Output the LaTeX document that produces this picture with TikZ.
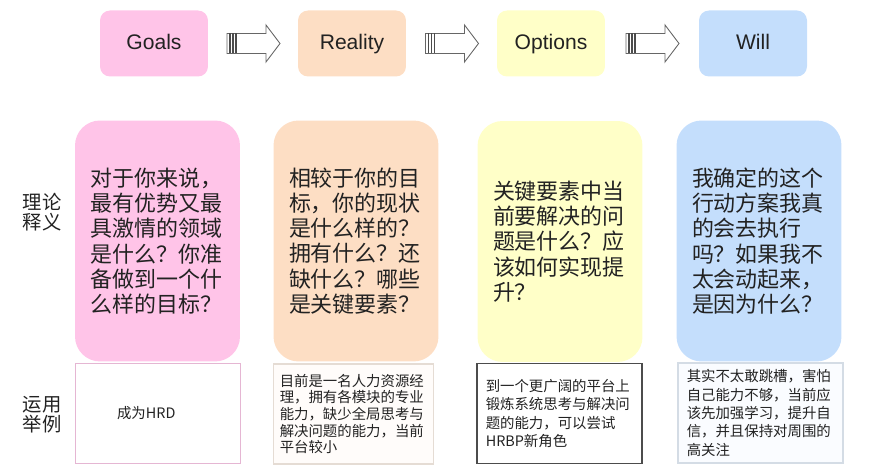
\documentclass[tikz,border=0pt]{standalone}
\usepackage{fontspec}
\setmainfont{Liberation Sans}
\newfontfamily\cjk{Noto Sans CJK SC}
\usetikzlibrary{calc}

\definecolor{goalpink}{HTML}{FFC4E8}
\definecolor{realpeach}{HTML}{FDDEC4}
\definecolor{optyellow}{HTML}{FFFFC8}
\definecolor{willblue}{HTML}{C4DEFC}
\definecolor{textgray}{HTML}{222222}

% striped block arrow between two heading boxes
\newcommand{\stepArrow}[2]{%
	\coordinate (m) at ($(#1.east)!0.5!(#2.west)$);
	\draw[arrowline] ($(m)+(-26,-10)$) -- ++(39,0) -- ++(0,-8.5) -- ++(14,18.5)
		-- ++(-14,18.5) -- ++(0,-8.5) -- ++(-39,0) -- cycle;
	\foreach \dx in {3,6,9}
		\draw[stripe] ($(m)+(-26+\dx,-10)$) -- ++(0,20);
}

\begin{document}
\begin{tikzpicture}[x=0.02cm, y=-0.02cm,
	head/.style={rounded corners=0.2cm, minimum width=2.16cm, minimum height=1.32cm,
		text height=0.72em, text depth=0em, font=\fontsize{12}{14}\selectfont, text=textgray},
	theory/.style={rounded corners=0.5cm, minimum width=3.3cm, minimum height=4.82cm,
		text width=2.68cm, align=left, font=\cjk\fontsize{12.5}{14.4}\selectfont, text=textgray},
	example/.style={draw, line width=0.6pt, minimum width=3.3cm, minimum height=2cm,
		text width=2.95cm, align=left, font=\cjk\fontsize{8.2}{10.4}\selectfont, text=textgray},
	rowlabel/.style={align=center, font=\cjk\fontsize{11}{11.4}\selectfont, text=textgray},
	arrowline/.style={draw=black!60, line width=0.5pt, fill=white},
	stripe/.style={draw=black!70, line width=0.7pt}]
	\useasboundingbox (0,0) rectangle (875,475);
	
	% the four steps
	\node[head, fill=goalpink] (goals) at (154,43.5) {Goals};
	\node[head, fill=realpeach] (reality) at (352,43.5) {Reality};
	\node[head, fill=optyellow] (options) at (551,43.5) {Options};
	\node[head, fill=willblue] (will) at (753,43.5) {Will};
	
	\stepArrow{goals}{reality}
	\stepArrow{reality}{options}
	\stepArrow{options}{will}
	
	% row labels
	\node[rowlabel] (theorylabel) at (42,212) {理论\\释义};
	\node[rowlabel] (examplelabel) at (42,415) {运用\\举例};
	
	% theory boxes
	\node[theory, fill=goalpink] (goaltext) at (157.5,241)
		{对于你来说，\\最有优势又最\\具激情的领域\\是什么？你准\\备做到一个什\\么样的目标？};
	\node[theory, fill=realpeach] (realtext) at (356,241)
		{相较于你的目\\标，你的现状\\是什么样的？\\拥有什么？还\\缺什么？哪些\\是关键要素？};
	\node[theory, fill=optyellow] (opttext) at (560,241.5)
		{关键要素中当\\前要解决的问\\题是什么？应\\该如何实现提\\升？};
	\node[theory, fill=willblue] (willtext) at (759,241)
		{我确定的这个\\行动方案我真\\的会去执行\\吗？如果我不\\太会动起来，\\是因为什么？};
	
	% examples
	\node[example, draw=goalpink!80!gray, line width=0.5pt, align=center] (goalex) at (157.5,413)
		{成为HRD\hspace*{0.45cm}};
	\node[example, draw=realpeach!60!gray!50, fill=realpeach!8, minimum width=3.16cm,
		font=\cjk\fontsize{8.2}{9.4}\selectfont] (realex) at (353.5,414)
		{目前是一名人力资源经\\理，拥有各模块的专业\\能力，缺少全局思考与\\解决问题的能力，当前\\平台较小};
	\node[example, draw=black!70] (optex) at (559.5,413.5)
		{到一个更广阔的平台上\\锻炼系统思考与解决问\\题的能力，可以尝试\\HRBP新角色};
	\node[example, draw=willblue!60!gray!50, fill=willblue!8] (willex) at (760.5,413)
		{其实不太敢跳槽，害怕\\自己能力不够，当前应\\该先加强学习，提升自\\信，并且保持对周围的\\高关注};
\end{tikzpicture}
\end{document}
